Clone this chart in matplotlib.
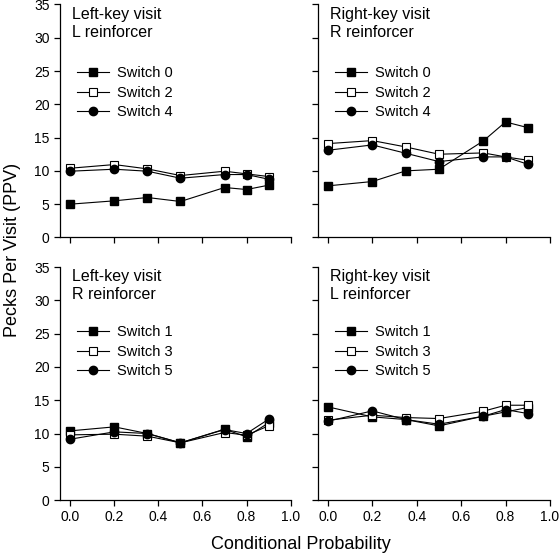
import matplotlib
matplotlib.use("Agg")
import matplotlib.pyplot as plt

plt.rcParams['font.family'] = ['Liberation Sans', 'DejaVu Sans']

# conditional probability values (x)
cond_prob = [0.0, 0.2, 0.35, 0.5, 0.7, 0.8, 0.9]

# left-key visit, L reinforcer
ll_sw0 = [5.0, 5.5, 6.0, 5.4, 7.5, 7.2, 7.85]
ll_sw2 = [10.4, 10.95, 10.3, 9.3, 9.95, 9.55, 9.15]
ll_sw4 = [9.95, 10.25, 9.95, 8.9, 9.45, 9.45, 8.75]

# right-key visit, R reinforcer
rr_sw0 = [7.75, 8.4, 10.0, 10.25, 14.5, 17.35, 16.5]
rr_sw2 = [14.1, 14.55, 13.6, 12.5, 12.7, 12.1, 11.6]
rr_sw4 = [13.1, 13.9, 12.65, 11.4, 12.1, 12.1, 11.0]

# left-key visit, R reinforcer
lr_sw1 = [10.4, 11.0, 10.0, 8.6, 10.65, 9.5, 11.6]
lr_sw3 = [9.8, 9.9, 9.6, 8.6, 10.15, 9.75, 11.15]
lr_sw5 = [9.15, 10.25, 10.0, 8.6, 10.6, 10.0, 12.15]

# right-key visit, L reinforcer
rl_sw1 = [14.0, 12.5, 12.1, 11.15, 12.6, 13.25, 13.9]
rl_sw3 = [12.0, 12.75, 12.4, 12.25, 13.35, 14.25, 14.25]
rl_sw5 = [11.85, 13.4, 12.1, 11.4, 12.6, 13.6, 13.0]

titles = ["Left-key visit\nL reinforcer", "Right-key visit\nR reinforcer",
          "Left-key visit\nR reinforcer", "Right-key visit\nL reinforcer"]
labels_even = ["Switch 0", "Switch 2", "Switch 4"]
labels_odd = ["Switch 1", "Switch 3", "Switch 5"]

panels = [
    (ll_sw0, ll_sw2, ll_sw4, labels_even),
    (rr_sw0, rr_sw2, rr_sw4, labels_even),
    (lr_sw1, lr_sw3, lr_sw5, labels_odd),
    (rl_sw1, rl_sw3, rl_sw5, labels_odd),
]

# axes rectangles in figure fraction
rects = [
    [0.107, 0.576, 0.412, 0.416],
    [0.567, 0.576, 0.415, 0.416],
    [0.107, 0.107, 0.412, 0.416],
    [0.567, 0.107, 0.415, 0.416],
]
leg_y = [0.735, 0.735, 0.75, 0.75]

fig = plt.figure(figsize=(5.6, 5.6), dpi=100)

for i in range(4):
    ax = fig.add_axes(rects[i])
    a, b, c, labs = panels[i]
    ax.plot(cond_prob, a, color='black', lw=0.8, marker='s', ms=5.5,
            mfc='black', mec='black', label=labs[0])
    ax.plot(cond_prob, b, color='black', lw=0.8, marker='s', ms=5.5,
            mfc='white', mec='black', mew=0.8, label=labs[1])
    ax.plot(cond_prob, c, color='black', lw=0.8, marker='o', ms=6,
            mfc='black', mec='black', label=labs[2])

    ax.set_xlim(-0.047, 1.0)
    ax.set_ylim(0, 35)
    ax.set_xticks([0.0, 0.2, 0.4, 0.6, 0.8, 1.0])
    ax.set_yticks(range(0, 36, 5))
    ax.spines['top'].set_visible(False)
    ax.spines['right'].set_visible(False)
    ax.spines['left'].set_linewidth(0.9)
    ax.spines['bottom'].set_linewidth(0.9)
    ax.tick_params(direction='out', length=4, width=0.9, labelsize=10)

    if i < 2:
        ax.tick_params(labelbottom=False)
    else:
        ax.set_xticklabels(["0.0", "0.2", "0.4", "0.6", "0.8", "1.0"])
    if i % 2 == 1:
        ax.tick_params(labelleft=False)

    ax.text(0.052, 0.99, titles[i], transform=ax.transAxes, va='top',
            ha='left', fontsize=11.5, linespacing=1.25)

    ax.legend(loc='upper left', bbox_to_anchor=(0.075, leg_y[i]), frameon=False,
              fontsize=10.5, handlelength=2.2, handletextpad=0.55,
              labelspacing=0.37, borderpad=0, borderaxespad=0)

fig.text(0.022, 0.553, "Pecks Per Visit (PPV)", rotation=90, va='center',
         ha='center', fontsize=13)
fig.text(0.538, 0.027, "Conditional Probability", va='center', ha='center',
         fontsize=13)

plt.savefig("out.png", dpi=100)
